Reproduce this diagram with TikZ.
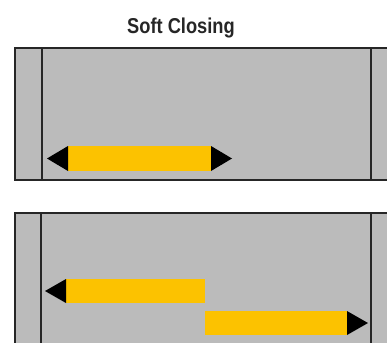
\documentclass[tikz,border=0pt]{standalone}
\usepackage{fontspec}
\setmainfont{Liberation Sans}
\definecolor{panelgray}{RGB}{187,187,187}
\definecolor{baryellow}{RGB}{252,194,0}
\begin{document}
\begin{tikzpicture}[x=1pt,y=-1pt,
  panel/.style={fill=panelgray,draw=black!85,line width=2pt},
  divider/.style={draw=black!85,line width=2pt},
  bar/.style={fill=baryellow},
  tip/.style={fill=black}]
\useasboundingbox (0,0) rectangle (387,342);
% title
\node[anchor=base,inner sep=0pt,font=\bfseries\fontsize{21.5}{24}\selectfont,text=black!85] (title) at (181,34) {\scalebox{0.85}[1]{Soft Closing}};
% top panel
\path[panel] (15,48) -- (390,48) -- (390,180) -- (15,180) -- cycle;
\draw[divider] (42,48) -- (42,180);
\draw[divider] (371,48) -- (371,180);
% top arrow
\fill[bar] (68,146) rectangle (211,171);
\fill[tip] (68,146) -- (47,158.5) -- (68,171) -- cycle;
\fill[tip] (211,146) -- (232,158.5) -- (211,171) -- cycle;
% bottom panel
\path[panel] (15,350) -- (15,213) -- (390,213) -- (390,350);
\draw[divider] (41,213) -- (41,345);
\draw[divider] (371,213) -- (371,345);
% bottom arrows
\fill[bar] (66,279) rectangle (205,303);
\fill[tip] (66,279) -- (45,291) -- (66,303) -- cycle;
\fill[bar] (205,311) rectangle (347,335);
\fill[tip] (347,311) -- (368,323) -- (347,335) -- cycle;
\end{tikzpicture}
\end{document}
